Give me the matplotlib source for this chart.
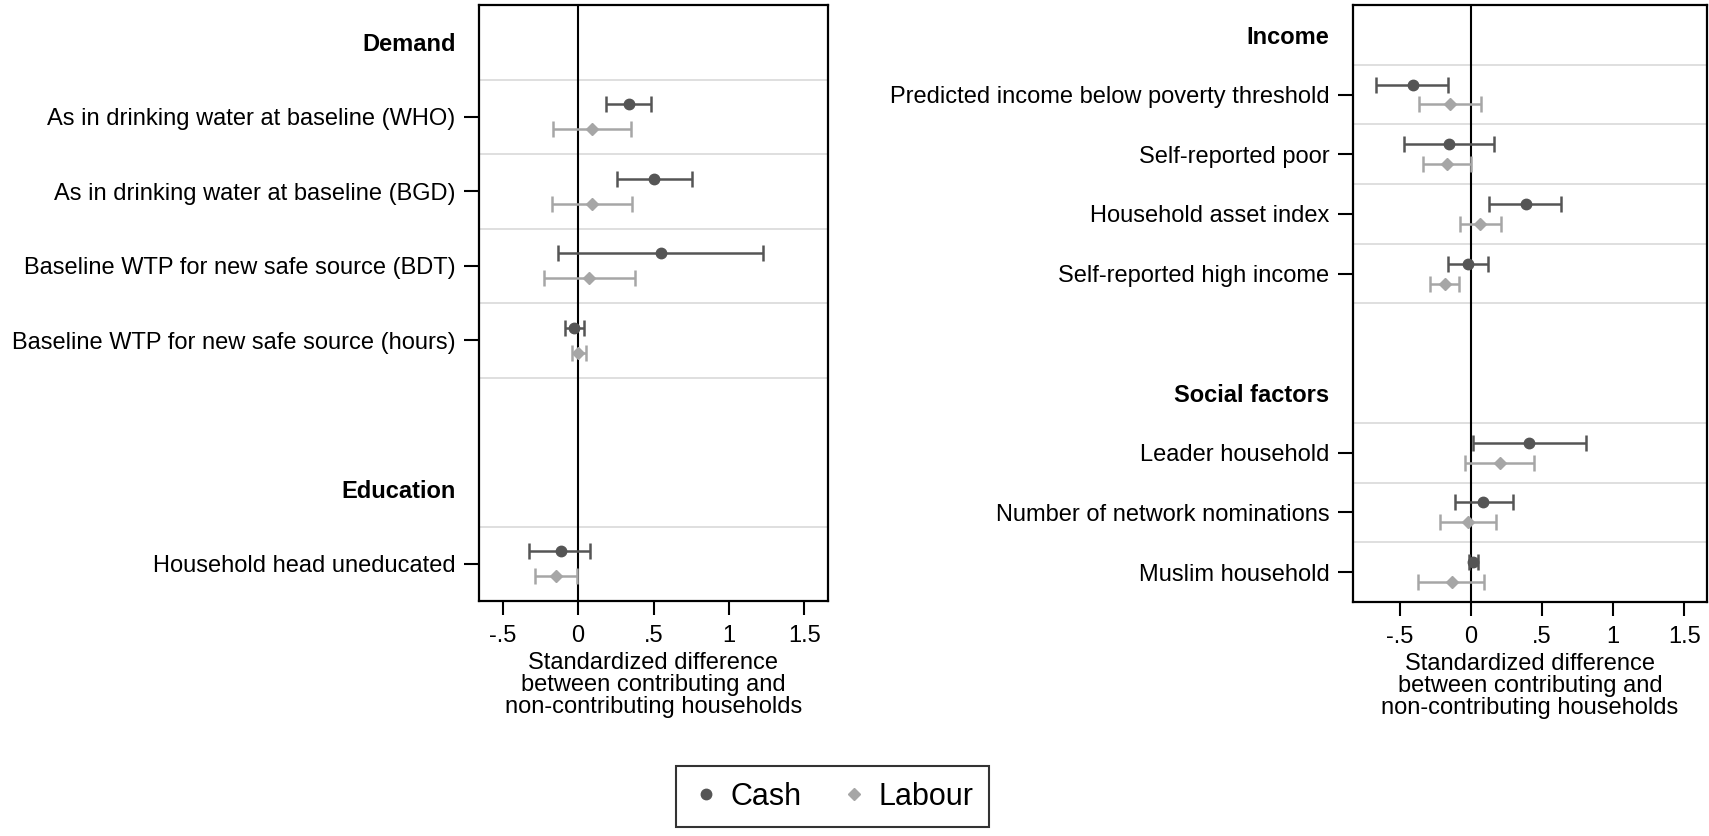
import matplotlib
matplotlib.use('Agg')
import matplotlib.pyplot as plt
from matplotlib.lines import Line2D
import numpy as np

plt.rcParams['font.family'] = ['Liberation Sans', 'DejaVu Sans']
plt.rcParams['font.size'] = 17

CASH_COLOR = '#555555'
LABOUR_COLOR = '#a6a6a6'

# left panel
demand_vars = ['As in drinking water at baseline (WHO)',
               'As in drinking water at baseline (BGD)',
               'Baseline WTP for new safe source (BDT)',
               'Baseline WTP for new safe source (hours)']
demand_cash = [0.338, 0.503, 0.55, -0.026]
demand_cash_lo = [0.183, 0.256, -0.130, -0.086]
demand_cash_hi = [0.481, 0.755, 1.227, 0.042]
demand_lab = [0.09, 0.095, 0.075, 0.002]
demand_lab_lo = [-0.163, -0.174, -0.223, -0.042]
demand_lab_hi = [0.351, 0.358, 0.375, 0.053]

education_vars = ['Household head uneducated']
education_cash = [-0.115]
education_cash_lo = [-0.322]
education_cash_hi = [0.079]
education_lab = [-0.146]
education_lab_lo = [-0.285]
education_lab_hi = [-0.009]

# right panel
income_vars = ['Predicted income below poverty threshold',
               'Self-reported poor',
               'Household asset index',
               'Self-reported high income']
income_cash = [-0.411, -0.153, 0.387, -0.019]
income_cash_lo = [-0.669, -0.472, 0.127, -0.160]
income_cash_hi = [-0.160, 0.164, 0.631, 0.122]
income_lab = [-0.148, -0.167, 0.063, -0.183]
income_lab_lo = [-0.366, -0.336, -0.077, -0.289]
income_lab_hi = [0.070, 0.0, 0.209, -0.085]

social_vars = ['Leader household',
               'Number of network nominations',
               'Muslim household']
social_cash = [0.411, 0.087, 0.016]
social_cash_lo = [0.016, -0.113, -0.012]
social_cash_hi = [0.810, 0.293, 0.047]
social_lab = [0.204, -0.019, -0.136]
social_lab_lo = [-0.042, -0.218, -0.371]
social_lab_hi = [0.446, 0.174, 0.094]

xtick_vals = [-0.5, 0, 0.5, 1, 1.5]
xtick_labels = ['-.5', '0', '.5', '1', '1.5']
xlabel = 'Standardized difference\nbetween contributing and\nnon-contributing households'


def draw_panel(ax, sections, xlim):
    labels = []
    headers = []
    rows = []  # (slot, cash, cash_lo, cash_hi, lab, lab_lo, lab_hi)
    for i, (head, names, c, clo, chi, l, llo, lhi) in enumerate(sections):
        if i > 0:
            labels.append('')
        headers.append(len(labels))
        labels.append(head)
        for j, name in enumerate(names):
            rows.append((len(labels), c[j], clo[j], chi[j], l[j], llo[j], lhi[j]))
            labels.append(name)
    n = len(labels)
    rows = np.array(rows)
    slot = rows[:, 0]

    # light gridlines above and below every coefficient row
    lines = sorted(set(list(slot - 0.5) + list(slot + 0.5)))
    for yl in lines:
        if -0.5 < yl < n - 0.5:
            ax.axhline(yl, color='#dcdcdc', lw=1.3, zorder=1)
    ax.axvline(0, color='black', lw=1.5, zorder=2)

    c, clo, chi = rows[:, 1], rows[:, 2], rows[:, 3]
    l, llo, lhi = rows[:, 4], rows[:, 5], rows[:, 6]
    ax.errorbar(c, slot - 1/6, xerr=[c - clo, chi - c], fmt='o', color=CASH_COLOR,
                ms=7.5, capsize=6, elinewidth=1.8, capthick=1.8, zorder=3)
    ax.errorbar(l, slot + 1/6, xerr=[l - llo, lhi - l], fmt='D', color=LABOUR_COLOR,
                ms=6.5, capsize=6, elinewidth=1.8, capthick=1.8, zorder=3)

    ax.set_ylim(n - 0.5, -0.5)
    ax.set_xlim(*xlim)
    ax.set_yticks(np.arange(n))
    ax.set_yticklabels(labels)
    ticks = ax.yaxis.get_major_ticks()
    for k in range(n):
        if k in headers:
            ticks[k].tick1line.set_visible(False)
            ticks[k].label1.set_fontweight('bold')
        elif labels[k] == '':
            ticks[k].tick1line.set_visible(False)
    ax.tick_params(axis='y', length=11, width=1.5, pad=6)
    ax.set_xticks(xtick_vals)
    ax.set_xticklabels(xtick_labels)
    ax.tick_params(axis='x', length=10, width=1.5, pad=7)
    ax.set_xlabel(xlabel, linespacing=1.0, labelpad=4)
    for sp in ax.spines.values():
        sp.set_linewidth(1.6)


fig = plt.figure(figsize=(17.09, 8.36), dpi=100)
ax1 = fig.add_axes([479/1709, 1 - 601/836, (828 - 479)/1709, 596/836])
ax2 = fig.add_axes([1353/1709, 1 - 602/836, (1707 - 1353)/1709, 597/836])

draw_panel(ax1, [('Demand', demand_vars, demand_cash, demand_cash_lo, demand_cash_hi,
                  demand_lab, demand_lab_lo, demand_lab_hi),
                 ('Education', education_vars, education_cash, education_cash_lo,
                  education_cash_hi, education_lab, education_lab_lo, education_lab_hi)],
           (-0.656, 1.656))
draw_panel(ax2, [('Income', income_vars, income_cash, income_cash_lo, income_cash_hi,
                  income_lab, income_lab_lo, income_lab_hi),
                 ('Social factors', social_vars, social_cash, social_cash_lo,
                  social_cash_hi, social_lab, social_lab_lo, social_lab_hi)],
           (-0.83, 1.66))

handles = [Line2D([], [], marker='o', ls='', color=CASH_COLOR, ms=7.5),
           Line2D([], [], marker='D', ls='', color=LABOUR_COLOR, ms=6.5)]
leg = fig.legend(handles, ['Cash', 'Labour'], loc='center', bbox_to_anchor=(0.487, 0.047),
                 ncol=2, fontsize=22, frameon=True, fancybox=False, edgecolor='black',
                 handletextpad=0.3, columnspacing=1.2, handlelength=1.0, borderpad=0.5)
leg.get_frame().set_linewidth(1.5)

fig.savefig('out.png', dpi=100)
